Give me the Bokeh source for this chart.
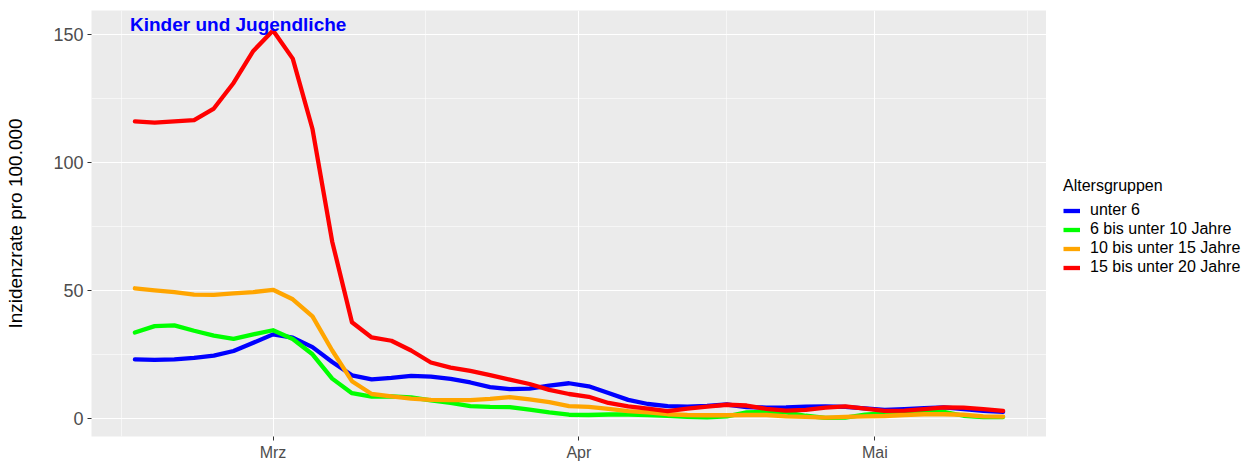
import pandas as pd
from bokeh.plotting import figure
from bokeh.layouts import row
from bokeh.models import (FixedTicker, CustomJSTickFormatter, Legend, LegendItem,
                          Label, Range1d)
from bokeh.embed import file_html
from bokeh.resources import INLINE

dates = ["2021-02-15", "2021-02-17", "2021-02-19", "2021-02-21", "2021-02-23",
         "2021-02-25", "2021-02-27", "2021-03-01", "2021-03-03", "2021-03-05",
         "2021-03-07", "2021-03-09", "2021-03-11", "2021-03-13", "2021-03-15",
         "2021-03-17", "2021-03-19", "2021-03-21", "2021-03-23", "2021-03-25",
         "2021-03-27", "2021-03-29", "2021-03-31", "2021-04-02", "2021-04-04",
         "2021-04-06", "2021-04-08", "2021-04-10", "2021-04-12", "2021-04-14",
         "2021-04-16", "2021-04-18", "2021-04-20", "2021-04-22", "2021-04-24",
         "2021-04-26", "2021-04-28", "2021-04-30", "2021-05-02", "2021-05-04",
         "2021-05-06", "2021-05-08", "2021-05-10", "2021-05-12", "2021-05-14"]

unter_6 = [23, 22.8, 23, 23.6, 24.5, 26.3, 29.5, 32.8, 31.5, 27.8,
           22, 16.8, 15.2, 15.8, 16.6, 16.3, 15.4, 14, 12.2, 11.4,
           11.6, 12.8, 13.7, 12.5, 9.9, 7.2, 5.6, 4.8, 4.6, 4.9,
           5.4, 4.4, 4.2, 4.3, 4.6, 4.7, 4.5, 3.9, 3.3, 3.6,
           4, 4.3, 3.6, 2.9, 2.5]

bis_10 = [33.5, 36, 36.3, 34.2, 32.3, 31, 32.8, 34.4, 31, 25,
          15.5, 9.8, 8.5, 8.6, 8.2, 7, 6, 4.8, 4.5, 4.4,
          3.4, 2.3, 1.4, 1.3, 1.5, 1.5, 1.3, 1, 0.6, 0.4,
          0.8, 2.3, 2.5, 2.3, 1, 0.2, 0.3, 1.4, 2, 2.3,
          2.7, 2.5, 1, 0.5, 0.5]

bis_15 = [50.8, 50, 49.3, 48.3, 48.2, 48.8, 49.3, 50.2, 46.5, 39.8,
          26.5, 14.5, 9.5, 8.6, 7.7, 7.2, 7.1, 7.1, 7.6, 8.3,
          7.4, 6.3, 4.8, 4.5, 3.7, 2.8, 2.3, 1.6, 1.3, 1.2,
          1.2, 1.3, 1.3, 0.8, 0.6, 0.3, 0.6, 0.8, 0.9, 1.3,
          1.6, 1.6, 1.4, 0.8, 0.7]

bis_20 = [116, 115.5, 116, 116.5, 121, 131, 143.5, 151.5, 140.5, 113,
          69, 37.5, 31.6, 30.3, 26.5, 21.8, 19.8, 18.5, 16.9, 15.1,
          13.4, 11.1, 9.5, 8.4, 6, 4.7, 3.8, 2.8, 3.8, 4.6,
          5.3, 5, 3.7, 3, 3.3, 4.2, 4.7, 3.8, 2.9, 3,
          3.6, 4.3, 4.2, 3.6, 2.9]

series_labels = ["unter 6", "6 bis unter 10 Jahre", "10 bis unter 15 Jahre",
                 "15 bis unter 20 Jahre"]
series_values = [unter_6, bis_10, bis_15, bis_20]
series_colors = ["#0000FF", "#00FF00", "#FFA500", "#FF0000"]

y_ticks = [0, 50, 100, 150]
y_minor = [25, 75, 125]
month_ticks = ["2021-03-01", "2021-04-01", "2021-05-01"]
month_labels = ["Jan", "Feb", "Mrz", "Apr", "Mai", "Jun", "Jul", "Aug", "Sep", "Okt", "Nov", "Dez"]

x = pd.to_datetime(dates)
ref = pd.Timestamp("2021-03-01")


def ms(ts):
    return ts.value // 10**6


x_start = ref - pd.Timedelta(days=18.4)
x_end = ref + pd.Timedelta(days=78.4)

p = figure(frame_width=955, frame_height=426, x_axis_type="datetime",
           output_backend="svg", toolbar_location=None,
           x_range=Range1d(x_start, x_end), y_range=Range1d(-7.1, 159.3),
           min_border_left=91, min_border_top=10, min_border_bottom=0,
           min_border_right=0)

p.background_fill_color = "#EBEBEB"
p.border_fill_color = "white"
p.outline_line_color = None

for vals, col in zip(series_values, series_colors):
    p.line(x, vals, line_color=col, line_width=4.3, line_join="round", line_cap="round")

# axes / ticks
xt = FixedTicker(ticks=[ms(pd.Timestamp(d)) for d in month_ticks],
                 minor_ticks=[ms(ref - pd.Timedelta(days=15.4)),
                              ms(ref + pd.Timedelta(days=15.5)),
                              ms(ref + pd.Timedelta(days=46)),
                              ms(ref + pd.Timedelta(days=76.5))])
p.xaxis.ticker = xt
p.xgrid.ticker = xt
p.xaxis.formatter = CustomJSTickFormatter(
    args=dict(names=month_labels),
    code="return names[new Date(tick).getUTCMonth()];")

yt = FixedTicker(ticks=y_ticks, minor_ticks=y_minor)
p.yaxis.ticker = yt
p.ygrid.ticker = yt

for g in (p.xgrid, p.ygrid):
    g.grid_line_color = "white"
    g.grid_line_width = 1.1
    g.minor_grid_line_color = "white"
    g.minor_grid_line_width = 0.55

for ax in (p.xaxis, p.yaxis):
    ax.axis_line_color = None
    ax.major_tick_line_color = "#333333"
    ax.major_tick_line_width = 1
    ax.major_tick_in = 0
    ax.major_tick_out = 4
    ax.minor_tick_line_color = None
    ax.major_label_text_color = "#4D4D4D"
    ax.major_label_text_font = "Liberation Sans"

p.xaxis.major_label_text_font_size = "16px"
p.xaxis.major_label_standoff = 3
p.yaxis.major_label_text_font_size = "18px"
p.yaxis.major_label_standoff = 4

p.yaxis.axis_label = "Inzidenzrate pro 100.000"
p.yaxis.axis_label_text_font = "Liberation Sans"
p.yaxis.axis_label_text_font_size = "19px"
p.yaxis.axis_label_text_font_style = "normal"
p.yaxis.axis_label_text_color = "black"
p.yaxis.axis_label_standoff = 24

# annotation
p.add_layout(Label(x=ms(pd.Timestamp("2021-02-14 12:00")), y=154,
                   text="Kinder und Jugendliche", text_color="#0000FF",
                   text_font="Liberation Sans", text_font_style="bold",
                   text_font_size="19px", text_baseline="middle",
                   text_align="left"))

# legend in a separate, axis-less panel to the right
# (same series drawn there, but outside its visible range, so only the legend keys show)
lf = figure(width=205, height=463, output_backend="svg", toolbar_location=None,
            x_range=Range1d(0, 1), y_range=Range1d(0, 1),
            min_border=0, outline_line_color=None)
lf.axis.visible = False
lf.grid.visible = False
lf.background_fill_color = "white"
lf.border_fill_color = "white"

leg_renderers = [lf.line(x, vals, line_color=col, line_width=4.3)
                 for vals, col in zip(series_values, series_colors)]

legend = Legend(items=[LegendItem(label=l, renderers=[r])
                       for l, r in zip(series_labels, leg_renderers)],
                title="Altersgruppen", location=(17, 160))
legend.title_text_font = "Liberation Sans"
legend.title_text_font_size = "16px"
legend.title_text_font_style = "normal"
legend.title_text_color = "black"
legend.title_standoff = 6
legend.label_text_font = "Liberation Sans"
legend.label_text_font_size = "16px"
legend.label_text_color = "black"
legend.glyph_width = 17
legend.glyph_height = 17
legend.label_height = 17
legend.label_standoff = 10
legend.spacing = 1
legend.padding = 5
legend.margin = 0
legend.border_line_color = None
legend.background_fill_alpha = 0
lf.add_layout(legend, "center")

layout = row(p, lf)
open("out.html", "w").write(file_html(layout, INLINE))
